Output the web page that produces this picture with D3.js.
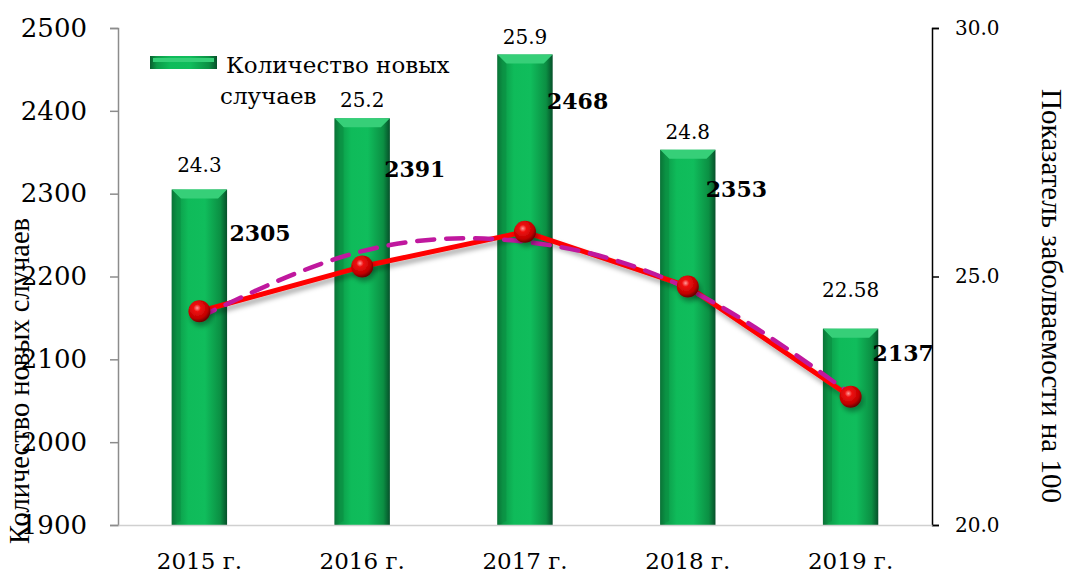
<!DOCTYPE html>
<html>
<head>
<meta charset="utf-8">
<script src="https://cdn.jsdelivr.net/npm/d3@7/dist/d3.min.js"></script>
<style>
  body { margin: 0; background: #fff; }
  svg { display: block; }
  text { fill: #000; }
</style>
</head>
<body>
<div id="chart"></div>
<script>
const years = ["2015 г.", "2016 г.", "2017 г.", "2018 г.", "2019 г."];
const newCases = [2305, 2391, 2468, 2353, 2137];
const rate = [24.3, 25.2, 25.9, 24.8, 22.58];
const rateLabels = ["24.3", "25.2", "25.9", "24.8", "22.58"];
// dashed trend line at each year
const trend = [24.18, 25.51, 25.70, 24.75, 22.64];
const leftTicks = [1900, 2000, 2100, 2200, 2300, 2400, 2500];
const rightTicks = [20, 25, 30];

// label nudges (layout only)
const rateLabelDy = [-25, -18, -18, -18, -39];
const caseLabelDy = [43, 51, 46, 39, 24];
const caseLabelDx = [8, 0, 0, -4, 0];

const W = 1069, H = 576;
const m = { left: 118, right: 932, top: 28, bottom: 525 };

const svg = d3.select("#chart").append("svg").attr("width", W).attr("height", H);
const defs = svg.append("defs");

const barGrad = defs.append("linearGradient").attr("id", "barGrad").attr("x1", 0).attr("x2", 1).attr("y1", 0).attr("y2", 0);
[[0, "#0a5e2e"], [0.1, "#0c9a48"], [0.3, "#0fbb5a"], [0.6, "#10bd5c"], [0.88, "#0b8f43"], [1, "#06502a"]]
    .forEach(s => barGrad.append("stop").attr("offset", s[0]).attr("stop-color", s[1]));

const ball = defs.append("radialGradient").attr("id", "ball").attr("cx", 0.4).attr("cy", 0.35).attr("r", 0.65);
[[0, "#ff9a9a"], [0.25, "#f01010"], [0.75, "#c00000"], [1, "#6a0000"]]
    .forEach(s => ball.append("stop").attr("offset", s[0]).attr("stop-color", s[1]));

const shadow = defs.append("filter").attr("id", "shadow").attr("x", "-20%").attr("y", "-20%").attr("width", "140%").attr("height", "160%");
shadow.append("feDropShadow").attr("dx", 2).attr("dy", 4).attr("stdDeviation", 2.5).attr("flood-color", "#000").attr("flood-opacity", 0.35);

const x = d3.scaleBand().domain(years).range([m.left, m.right]).paddingInner(0.66).paddingOuter(0.33);
const yL = d3.scaleLinear().domain([1900, 2500]).range([m.bottom, m.top]);
const yR = d3.scaleLinear().domain([20, 30]).range([m.bottom, m.top]);
const cx = d => x(d) + x.bandwidth() / 2;

// bars
const bars = svg.append("g").selectAll("g").data(years).enter().append("g");
bars.append("rect")
    .attr("x", d => x(d)).attr("width", x.bandwidth())
    .attr("y", (d, i) => yL(newCases[i])).attr("height", (d, i) => m.bottom - yL(newCases[i]))
    .attr("fill", "url(#barGrad)");
// top bevel
bars.append("path")
    .attr("d", (d, i) => {
        const x0 = x(d), x1 = x0 + x.bandwidth(), t = yL(newCases[i]), b = 9;
        return `M${x0},${t}L${x1},${t}L${x1 - b},${t + b}L${x0 + b},${t + b}Z`;
    })
    .attr("fill", "#36cf78");
bars.append("path")
    .attr("d", (d, i) => {
        const x0 = x(d), x1 = x0 + x.bandwidth(), t = yL(newCases[i]), b = 9;
        return `M${x0},${t}L${x0 + b},${t + b}L${x0 + b},${m.bottom - 4}L${x0},${m.bottom}Z`;
    })
    .attr("fill", "#0a8a40").attr("opacity", 0.5);

// axes
const axL = svg.append("g").attr("transform", `translate(${m.left},0)`)
    .call(d3.axisLeft(yL).tickValues(leftTicks).tickSize(8).tickPadding(23).tickFormat(d3.format("d")));
axL.select(".domain").attr("stroke", "#8c8c8c").attr("stroke-width", 1.5);
axL.selectAll(".tick line").attr("stroke", "#8c8c8c").attr("stroke-width", 1.5);
axL.selectAll(".tick text").attr("font-family", "DejaVu Serif").attr("font-size", 26).attr("fill", "#000");

const axR = svg.append("g").attr("transform", `translate(${m.right},0)`)
    .call(d3.axisRight(yR).tickValues(rightTicks).tickSize(7).tickPadding(16).tickFormat(d3.format(".1f")));
axR.select(".domain").attr("stroke", "#000").attr("stroke-width", 1.5);
axR.selectAll(".tick line").attr("stroke", "#000").attr("stroke-width", 1.5);
axR.selectAll(".tick text").attr("font-family", "DejaVu Serif").attr("font-size", 20).attr("fill", "#000");

const axB = svg.append("g").attr("transform", `translate(0,${m.bottom})`)
    .call(d3.axisBottom(x).tickSize(0).tickPadding(28));
axB.select(".domain").attr("stroke", "#d0d0d0").attr("stroke-width", 1.5);
axB.selectAll(".tick text").attr("font-family", "DejaVu Serif").attr("font-size", 23).attr("fill", "#000");

// lines
const line = d3.line().x((d, i) => cx(years[i])).y(d => yR(d));
svg.append("path").datum(rate).attr("d", line)
    .attr("fill", "none").attr("stroke", "#ff0000").attr("stroke-width", 5)
    .attr("stroke-linejoin", "round").attr("filter", "url(#shadow)");
svg.append("path").datum(trend).attr("d", line.curve(d3.curveNatural))
    .attr("fill", "none").attr("stroke", "#c0189e").attr("stroke-width", 4.5)
    .attr("stroke-dasharray", "17,12").attr("stroke-linecap", "round");
svg.append("g").selectAll("circle").data(rate).enter().append("circle")
    .attr("cx", (d, i) => cx(years[i])).attr("cy", d => yR(d)).attr("r", 11)
    .attr("fill", "url(#ball)").attr("filter", "url(#shadow)");

// data labels
svg.append("g").selectAll("text").data(rateLabels).enter().append("text")
    .attr("x", (d, i) => cx(years[i])).attr("y", (d, i) => yL(newCases[i]) + rateLabelDy[i])
    .attr("text-anchor", "middle").attr("dominant-baseline", "central")
    .attr("font-family", "DejaVu Serif").attr("font-size", 20)
    .text(d => d);
svg.append("g").selectAll("text").data(newCases).enter().append("text")
    .attr("x", (d, i) => cx(years[i]) + 22 + caseLabelDx[i]).attr("y", (d, i) => yL(d) + caseLabelDy[i])
    .attr("dominant-baseline", "central")
    .attr("font-family", "DejaVu Serif").attr("font-weight", "bold").attr("font-size", 22)
    .text(d => d);

// legend
svg.append("rect").attr("x", 150).attr("y", 56).attr("width", 67).attr("height", 13).attr("fill", "url(#barGrad)");
svg.append("rect").attr("x", 153).attr("y", 58).attr("width", 61).attr("height", 4).attr("fill", "#36cf78");
const leg = svg.append("text").attr("font-family", "DejaVu Serif").attr("font-size", 23);
leg.append("tspan").attr("x", 226).attr("y", 73).text("Количество новых");
leg.append("tspan").attr("x", 220).attr("y", 104).text("случаев");

// axis titles
svg.append("text").attr("transform", "translate(29,381) rotate(-90)")
    .attr("text-anchor", "middle").attr("font-family", "Liberation Serif").attr("font-size", 28.5)
    .text("Количество новых случаев");
svg.append("text").attr("transform", "translate(1042,296) rotate(90)")
    .attr("text-anchor", "middle").attr("font-family", "Liberation Serif").attr("font-size", 29)
    .text("Показатель заболваемости на 100");
</script>
</body>
</html>
